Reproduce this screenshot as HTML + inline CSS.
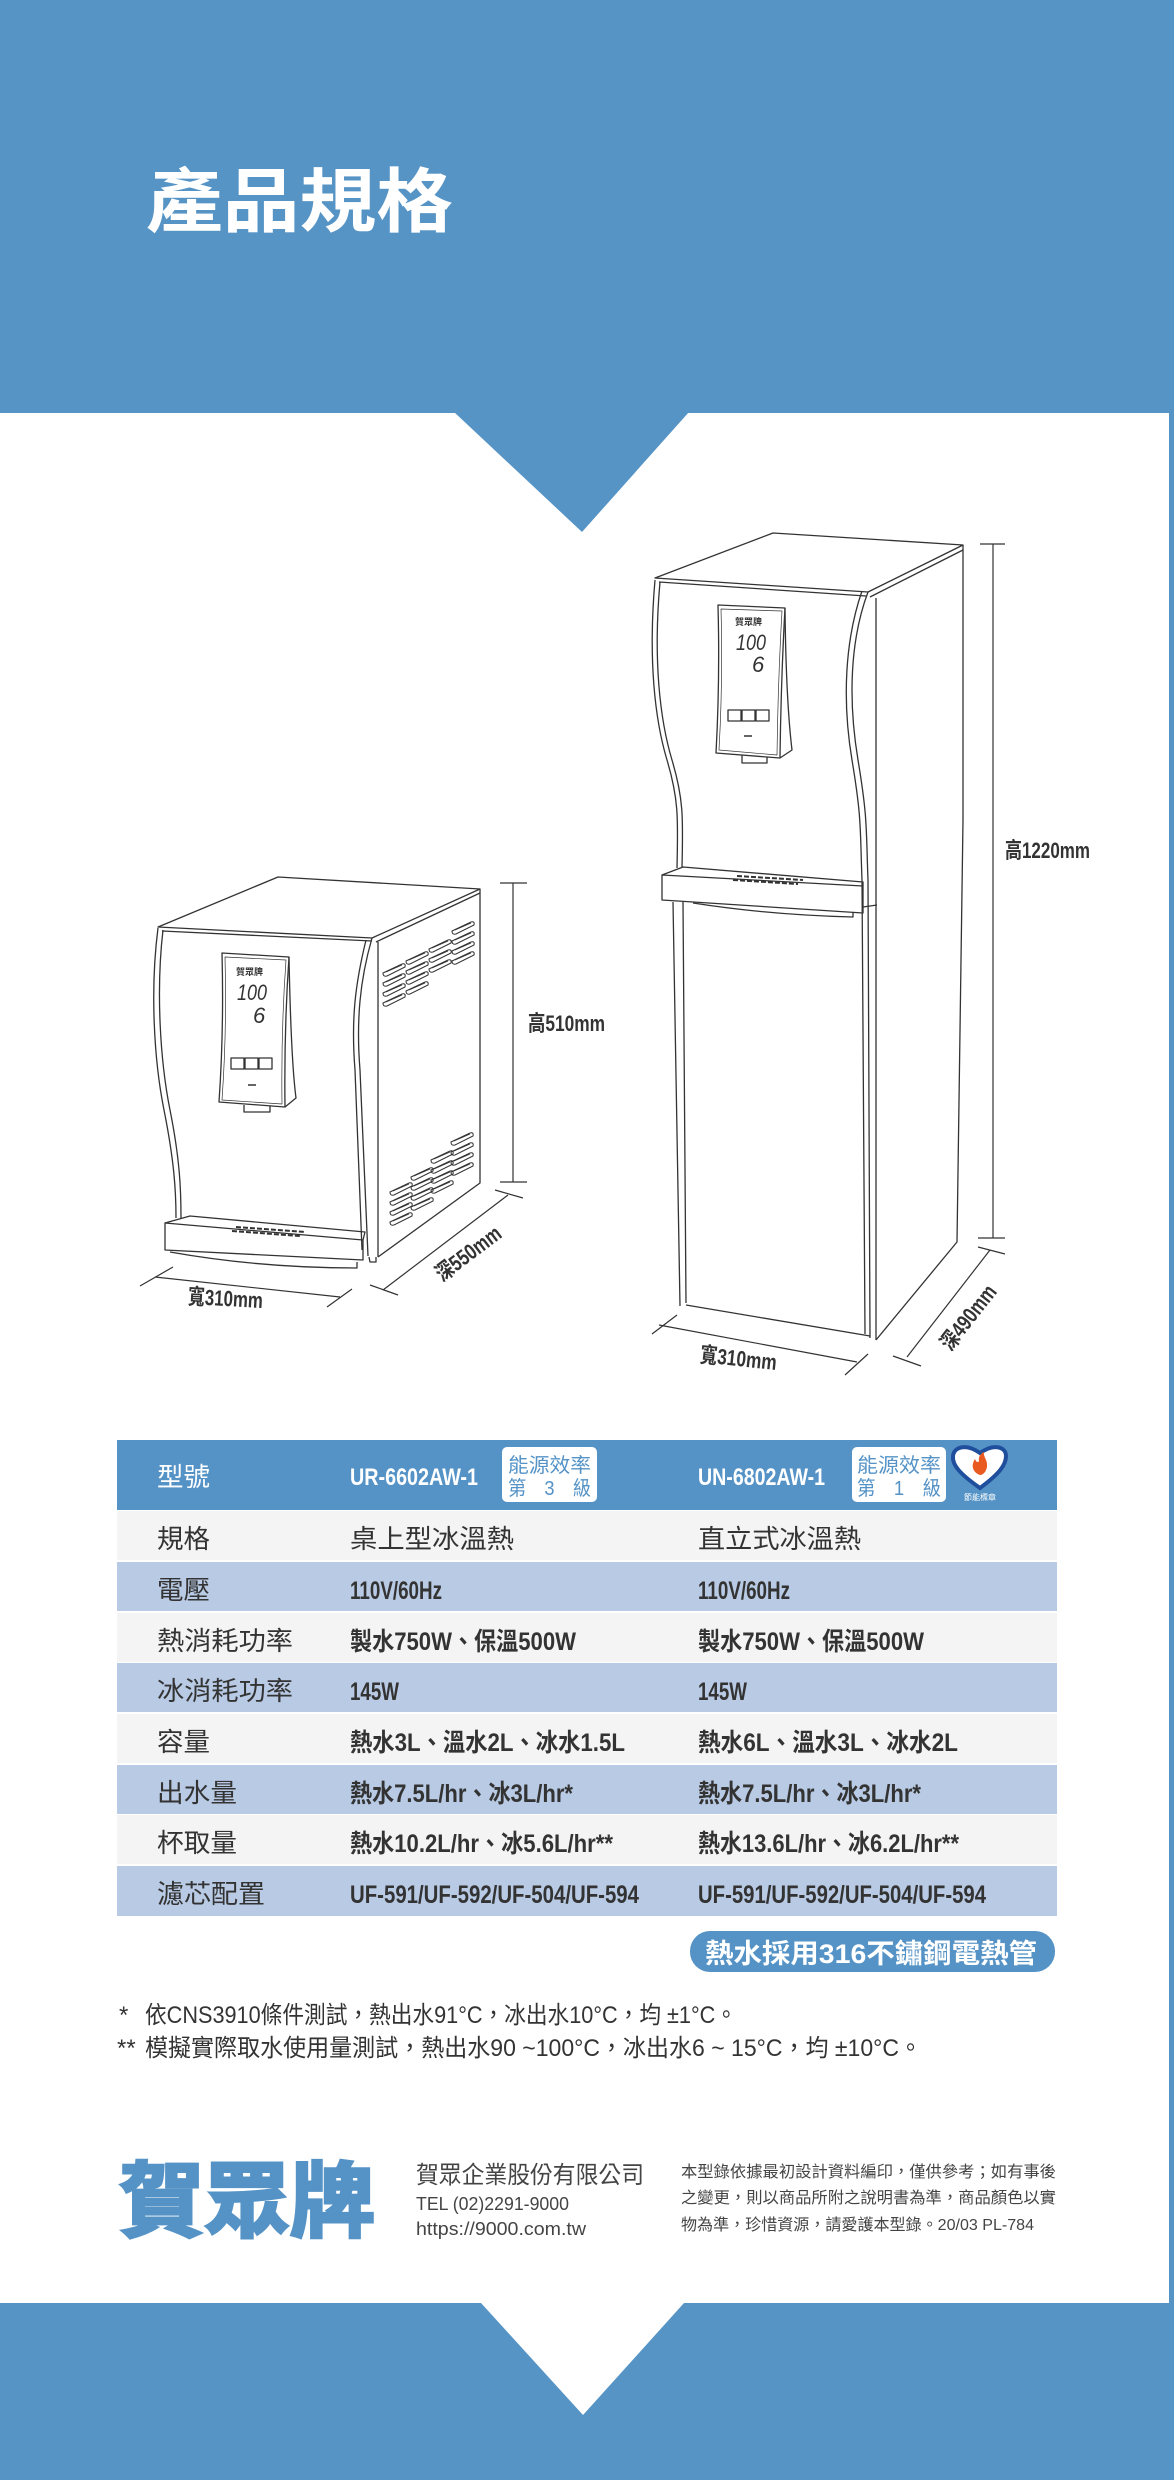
<!DOCTYPE html>
<html><head><meta charset="utf-8"><style>
html,body{margin:0;padding:0;background:#fff}
svg{display:block}
text{font-family:"Liberation Sans","Noto Sans CJK TC",sans-serif}
</style></head><body>
<svg width="1174" height="2480" viewBox="0 0 1174 2480" xmlns="http://www.w3.org/2000/svg">
<defs>
<g id="v"><path d="M0,7 L19,-2 Q23,-3 22,1 L4,10 Q0,11 0,7 Z" fill="none" stroke="#333" stroke-width="1"/><path d="M3,6 L19,-1" stroke="#333" stroke-width="0.8"/></g>
</defs>
<!-- header -->
<rect x="0" y="0" width="1174" height="413" fill="#5694c6"/>
<polygon points="454,412 689,412 582,532" fill="#5694c6"/>
<rect x="1169" y="410" width="5" height="1900" fill="#5694c6"/>
<text x="146" y="226" font-size="70" font-weight="bold" fill="#fff" textLength="307" lengthAdjust="spacingAndGlyphs">產品規格</text>

<!-- SMALL DISPENSER -->
<g fill="none" stroke="#333" stroke-width="1.3" stroke-linejoin="round">
<path d="M158,927 L278,877 L480,889 L372,938 Z"/>
<path d="M162,931 L372,941"/>
<path d="M480,893 L376,942"/>
<path d="M158,928 C150,990 154,1060 164,1110 S176,1190 176,1218"/>
<path d="M163,930 C156,990 160,1060 170,1110 S181,1190 181,1218"/>
<path d="M372,938 C360,980 356,1020 360,1070 L368,1256"/>
<path d="M366,940 C355,985 351,1020 355,1070 L362,1250"/>
<path d="M378,942 L378,1257"/>
<path d="M480,889 L480,1183 L378,1257"/>
<path d="M165,1223 L190,1216 L365,1232 L363,1240"/>
<path d="M165,1223 L363,1240 L363,1260 L165,1250 Z"/>
<path d="M170,1252 Q260,1268 357,1268 L357,1262"/>
<path d="M369,1257 L370,1262 L376,1262 L376,1257"/>
<path d="M222,953 L289,957 Q284,1030 285,1107 L219,1102 Q224,1030 222,953 Z"/>
<path d="M225,957 L286,960 Q281,1030 282,1104 L222,1100 Q227,1030 225,957 Z" stroke-width="0.7"/>
<path d="M289,957 Q291,1060 296,1098 L285,1107"/>
<path d="M244,1105 L244,1112 L270,1112 L270,1106"/>
<rect x="231" y="1058" width="13" height="11"/><rect x="245" y="1058" width="13" height="11"/><rect x="259" y="1058" width="13" height="11"/>
<path d="M248,1085 L256,1085" stroke-width="1.5"/>
<!-- tray holes -->
<path d="M232,1231 L300,1236 M236,1227 L305,1232" stroke-dasharray="5,2" stroke-width="2"/>
</g>
<text x="236" y="975" font-size="9" font-weight="bold" fill="#333">賀眾牌</text>
<text x="237" y="1000" font-size="22" font-style="italic" fill="#333" textLength="30" lengthAdjust="spacingAndGlyphs">100</text>
<text x="253" y="1023" font-size="22" font-style="italic" fill="#333">6</text>
<g fill="#333">
<use href="#v" x="383" y="966"/><use href="#v" x="383" y="976"/><use href="#v" x="383" y="986"/><use href="#v" x="383" y="996"/>
<use href="#v" x="406" y="954"/><use href="#v" x="406" y="964"/><use href="#v" x="406" y="974"/><use href="#v" x="406" y="984"/>
<use href="#v" x="429" y="942"/><use href="#v" x="429" y="952"/><use href="#v" x="429" y="962"/>
<use href="#v" x="452" y="924"/><use href="#v" x="452" y="934"/><use href="#v" x="452" y="944"/><use href="#v" x="452" y="954"/>
<use href="#v" x="390" y="1185"/><use href="#v" x="390" y="1195"/><use href="#v" x="390" y="1205"/><use href="#v" x="390" y="1215"/>
<use href="#v" x="411" y="1170"/><use href="#v" x="411" y="1180"/><use href="#v" x="411" y="1190"/><use href="#v" x="411" y="1200"/>
<use href="#v" x="431" y="1153"/><use href="#v" x="431" y="1163"/><use href="#v" x="431" y="1173"/><use href="#v" x="431" y="1183"/>
<use href="#v" x="451" y="1135"/><use href="#v" x="451" y="1145"/><use href="#v" x="451" y="1155"/><use href="#v" x="451" y="1165"/>
</g>
<!-- small dims -->
<g stroke="#333" stroke-width="1.2" fill="none">
<path d="M513,883 L513,1182 M500,883 L527,883 M500,1182 L527,1182"/>
<path d="M155,1277 L340,1297 M140,1286 L173,1267 M327,1307 L352,1289"/>
<path d="M383,1290 L508,1195 M370,1285 L398,1295 M495,1190 L523,1198"/>
</g>
<g fill="#333" font-weight="bold">
<text x="528" y="1031" font-size="22" textLength="77" lengthAdjust="spacingAndGlyphs">高510mm</text>
<text x="188" y="1306" font-size="22" textLength="75" lengthAdjust="spacingAndGlyphs" transform="rotate(3 225 1298)">寬310mm</text>
<text x="468" y="1261" font-size="22" text-anchor="middle" textLength="76" lengthAdjust="spacingAndGlyphs" transform="rotate(-37 468 1253)">深550mm</text>
</g>

<!-- TALL DISPENSER -->
<g fill="none" stroke="#333" stroke-width="1.3" stroke-linejoin="round">
<path d="M655,578 L773,533 L963,545 L868,592 Z"/>
<path d="M659,582 L866,596"/>
<path d="M963,550 L870,597"/>
<path d="M655,580 C648,660 655,720 667,760 S678,820 677,868"/>
<path d="M660,582 C653,660 660,720 672,760 S683,820 682,868"/>
<path d="M673,902 L680,1306 M683,902 L686,1303"/>
<path d="M868,592 C850,640 848,700 858,760 S866,830 868,880 L870,1338"/>
<path d="M862,591 C845,640 842,700 852,760 S860,830 862,880 L865,1334"/>
<path d="M876,598 L876,1340"/>
<path d="M963,545 L963,820 L957,1242 L876,1340"/>
<path d="M686,1305 L870,1336"/>
<path d="M662,875 L683,867 L863,882 L863,886"/>
<path d="M662,875 L863,886 L863,913 L662,900 Z"/>
<path d="M693,903 Q770,915 853,917 L853,912"/>
<path d="M863,907 L877,905"/>
<path d="M718,605 L785,608 Q781,680 780,758 L716,753 Q720,680 718,605 Z"/>
<path d="M721,609 L782,611 Q778,680 777,755 L719,750 Q723,680 721,609 Z" stroke-width="0.7"/>
<path d="M785,608 Q786,700 792,750 L780,758"/>
<path d="M742,755 L742,763 L767,763 L767,757"/>
<rect x="728" y="710" width="13" height="11"/><rect x="742" y="710" width="13" height="11"/><rect x="756" y="710" width="13" height="11"/>
<path d="M744,736 L752,736" stroke-width="1.5"/>
<path d="M733,880 L798,884 M737,876 L803,880" stroke-dasharray="5,2" stroke-width="2"/>
</g>
<text x="735" y="625" font-size="9" font-weight="bold" fill="#333">賀眾牌</text>
<text x="736" y="650" font-size="22" font-style="italic" fill="#333" textLength="30" lengthAdjust="spacingAndGlyphs">100</text>
<text x="752" y="672" font-size="22" font-style="italic" fill="#333">6</text>
<g stroke="#333" stroke-width="1.2" fill="none">
<path d="M993,544 L993,1238 M980,544 L1005,544 M978,1238 L1005,1238"/>
<path d="M659,1325 L857,1362 M652,1334 L677,1315 M845,1375 L868,1354"/>
<path d="M907,1357 L990,1250 M893,1356 L921,1366 M978,1247 L1005,1254"/>
</g>
<g fill="#333" font-weight="bold">
<text x="1005" y="858" font-size="22" textLength="85" lengthAdjust="spacingAndGlyphs">高1220mm</text>
<text x="700" y="1366" font-size="22" textLength="77" lengthAdjust="spacingAndGlyphs" transform="rotate(6 738 1358)">寬310mm</text>
<text x="968" y="1325" font-size="22" text-anchor="middle" textLength="76" lengthAdjust="spacingAndGlyphs" transform="rotate(-52 968 1317)">深490mm</text>
</g>

<!-- TABLE -->
<rect x="117" y="1440" width="940" height="70" fill="#5593c6"/>
<g>
<rect x="117" y="1511" width="940" height="49" fill="#f4f4f4"/>
<rect x="117" y="1562" width="940" height="49" fill="#b8cae4"/>
<rect x="117" y="1613" width="940" height="49" fill="#f4f4f4"/>
<rect x="117" y="1663" width="940" height="49" fill="#b8cae4"/>
<rect x="117" y="1714" width="940" height="49" fill="#f4f4f4"/>
<rect x="117" y="1765" width="940" height="49" fill="#b8cae4"/>
<rect x="117" y="1815" width="940" height="49" fill="#f4f4f4"/>
<rect x="117" y="1866" width="940" height="50" fill="#b8cae4"/>
</g>
<g fill="#fff">
<text x="157" y="1486" font-size="26" textLength="53" lengthAdjust="spacingAndGlyphs">型號</text>
<text x="350" y="1485" font-size="24" font-weight="bold" textLength="128" lengthAdjust="spacingAndGlyphs">UR-6602AW-1</text>
<text x="698" y="1485" font-size="24" font-weight="bold" textLength="127" lengthAdjust="spacingAndGlyphs">UN-6802AW-1</text>
<rect x="502" y="1447" width="95" height="55" rx="5"/>
<rect x="852" y="1447" width="94" height="55" rx="5"/>
</g>
<g fill="#5593c6" font-size="20">
<text x="508" y="1472" textLength="83" lengthAdjust="spacingAndGlyphs">能源效率</text>
<text x="508" y="1495" textLength="83" lengthAdjust="spacingAndGlyphs">第　3　級</text>
<text x="857" y="1472" textLength="84" lengthAdjust="spacingAndGlyphs">能源效率</text>
<text x="857" y="1495" textLength="84" lengthAdjust="spacingAndGlyphs">第　1　級</text>
</g>
<path d="M980,1488 C960,1474 952,1465 953,1456 C954,1447 966,1443 980,1453 C994,1443 1006,1447 1006,1456 C1006,1465 999,1474 980,1488 Z" fill="#fff" stroke="#1f4e9c" stroke-width="4"/>
<path d="M980,1475 C972,1472 971,1465 975,1459 C976,1462 978,1463 979,1461 C978,1457 981,1453 984,1452 C983,1457 988,1460 987,1467 C986,1472 983,1475 980,1475 Z" fill="#e85a1f"/>
<text x="980" y="1500" font-size="8" fill="#fff" text-anchor="middle">節能標章</text>
<g fill="#333" font-size="26">
<text x="157" y="1548" textLength="53" lengthAdjust="spacingAndGlyphs">規格</text>
<text x="350" y="1548" textLength="164" lengthAdjust="spacingAndGlyphs">桌上型冰溫熱</text>
<text x="698" y="1548" textLength="163" lengthAdjust="spacingAndGlyphs">直立式冰溫熱</text>
<text x="157" y="1599" textLength="53" lengthAdjust="spacingAndGlyphs">電壓</text>
<text x="157" y="1650" textLength="136" lengthAdjust="spacingAndGlyphs">熱消耗功率</text>
<text x="157" y="1700" textLength="136" lengthAdjust="spacingAndGlyphs">冰消耗功率</text>
<text x="157" y="1751" textLength="53" lengthAdjust="spacingAndGlyphs">容量</text>
<text x="157" y="1802" textLength="80" lengthAdjust="spacingAndGlyphs">出水量</text>
<text x="157" y="1852" textLength="80" lengthAdjust="spacingAndGlyphs">杯取量</text>
<text x="157" y="1903" textLength="108" lengthAdjust="spacingAndGlyphs">濾芯配置</text>
</g>
<g fill="#333" font-size="25" font-weight="bold">
<text x="350" y="1599" textLength="92" lengthAdjust="spacingAndGlyphs">110V/60Hz</text>
<text x="698" y="1599" textLength="92" lengthAdjust="spacingAndGlyphs">110V/60Hz</text>
<text x="350" y="1650" textLength="226" lengthAdjust="spacingAndGlyphs">製水750W、保溫500W</text>
<text x="698" y="1650" textLength="226" lengthAdjust="spacingAndGlyphs">製水750W、保溫500W</text>
<text x="350" y="1700" textLength="49" lengthAdjust="spacingAndGlyphs">145W</text>
<text x="698" y="1700" textLength="49" lengthAdjust="spacingAndGlyphs">145W</text>
<text x="350" y="1751" textLength="275" lengthAdjust="spacingAndGlyphs">熱水3L、溫水2L、冰水1.5L</text>
<text x="698" y="1751" textLength="260" lengthAdjust="spacingAndGlyphs">熱水6L、溫水3L、冰水2L</text>
<text x="350" y="1802" textLength="223" lengthAdjust="spacingAndGlyphs">熱水7.5L/hr、冰3L/hr*</text>
<text x="698" y="1802" textLength="223" lengthAdjust="spacingAndGlyphs">熱水7.5L/hr、冰3L/hr*</text>
<text x="350" y="1852" textLength="263" lengthAdjust="spacingAndGlyphs">熱水10.2L/hr、冰5.6L/hr**</text>
<text x="698" y="1852" textLength="261" lengthAdjust="spacingAndGlyphs">熱水13.6L/hr、冰6.2L/hr**</text>
<text x="350" y="1903" textLength="289" lengthAdjust="spacingAndGlyphs">UF-591/UF-592/UF-504/UF-594</text>
<text x="698" y="1903" textLength="288" lengthAdjust="spacingAndGlyphs">UF-591/UF-592/UF-504/UF-594</text>
</g>

<!-- pill -->
<rect x="690" y="1931" width="365" height="41" rx="20" fill="#5593c6"/>
<text x="705" y="1963" font-size="27" font-weight="bold" fill="#fff" textLength="332" lengthAdjust="spacingAndGlyphs">熱水採用316不鏽鋼電熱管</text>

<!-- notes -->
<g fill="#333" font-size="24">
<text x="119" y="2023">*</text>
<text x="145" y="2023" textLength="592" lengthAdjust="spacingAndGlyphs">依CNS3910條件測試，熱出水91°C，冰出水10°C，均 ±1°C。</text>
<text x="117" y="2056">**</text>
<text x="145" y="2056" textLength="777" lengthAdjust="spacingAndGlyphs">模擬實際取水使用量測試，熱出水90 ~100°C，冰出水6 ~ 15°C，均 ±10°C。</text>
</g>

<!-- footer -->
<text x="119" y="2230" font-size="82" font-weight="bold" fill="#5593c6" stroke="#5593c6" stroke-width="3" textLength="256" lengthAdjust="spacingAndGlyphs">賀眾牌</text>
<g fill="#444">
<text x="416" y="2183" font-size="24" textLength="228" lengthAdjust="spacingAndGlyphs">賀眾企業股份有限公司</text>
<text x="416" y="2210" font-size="18" textLength="153" lengthAdjust="spacingAndGlyphs">TEL (02)2291-9000</text>
<text x="416" y="2235" font-size="18" textLength="170" lengthAdjust="spacingAndGlyphs">https://9000.com.tw</text>
<text x="681" y="2177" font-size="16" textLength="375" lengthAdjust="spacingAndGlyphs">本型錄依據最初設計資料編印，僅供參考；如有事後</text>
<text x="681" y="2203" font-size="16" textLength="375" lengthAdjust="spacingAndGlyphs">之變更，則以商品所附之說明書為準，商品顏色以實</text>
<text x="681" y="2230" font-size="16" textLength="353" lengthAdjust="spacingAndGlyphs">物為準，珍惜資源，請愛護本型錄。20/03  PL-784</text>
</g>

<!-- bottom band -->
<path d="M0,2303 L481,2303 L583,2415 L684,2303 L1174,2303 L1174,2480 L0,2480 Z" fill="#5694c6"/>
</svg>
</body></html>
